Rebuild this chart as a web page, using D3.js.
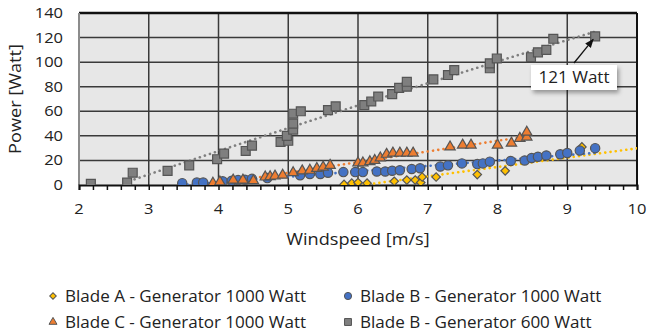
<!DOCTYPE html>
<html>
  <head>
    <meta charset="utf-8" />
    <title>Power vs windspeed</title>
    <script src="https://cdn.jsdelivr.net/npm/d3@7/dist/d3.min.js"></script>
    <style>
      body { margin: 0; background: #fff; }
      text { font-family: "Open Sans", "Noto Sans", sans-serif; fill: #222; }
    </style>
  </head>
  <body>
    <script>
      // Blade A - Generator 1000 Watt (yellow diamonds)
      const bladeA_x = [5.8, 5.91, 6.0, 6.13, 6.52, 6.7, 6.82, 6.9, 6.92, 7.12, 7.71, 8.11, 9.21];
      const bladeA_y = [0.5, 1.5, 2, 1.5, 3, 4, 4, 2, 6.5, 6.5, 8.5, 11.5, 31];

      // Blade B - Generator 1000 Watt (blue circles)
      const bladeB_x = [3.48, 3.69, 3.78, 4.06, 4.19, 4.28, 4.38, 4.48, 4.7, 5.17, 5.31, 5.46, 5.57,
        5.79, 5.96, 6.07, 6.27, 6.39, 6.49, 6.6, 6.77, 6.89, 7.18, 7.29, 7.49, 7.71, 7.79, 7.89,
        8.19, 8.39, 8.49, 8.58, 8.7, 8.9, 9.0, 9.18, 9.4];
      const bladeB_y = [1.5, 2, 2, 3, 3.5, 4, 4.3, 5, 5.6, 8, 9, 9, 10,
        10.5, 10.5, 10.5, 11, 11, 11.6, 12, 13, 13.6, 15, 16, 17.6, 17, 17.6, 19,
        19.5, 20, 22, 23, 24, 25, 26, 28, 30];

      // Blade C - Generator 1000 Watt (orange triangles)
      const bladeC_x = [3.92, 4.02, 4.21, 4.35, 4.5, 4.67, 4.74, 4.81, 4.92, 5.07, 5.2, 5.31, 5.41,
        5.5, 5.6, 6.0, 6.07, 6.17, 6.24, 6.32, 6.41, 6.5, 6.6, 6.7, 6.79, 7.32, 7.5, 7.62, 8.0,
        8.2, 8.32, 8.42, 8.42];
      const bladeC_y = [1.5, 2.5, 4, 4, 3.5, 6.5, 6.8, 7.3, 8, 10, 11.5, 12, 13.5,
        14.6, 16, 18, 18, 19, 20, 22, 25, 26, 26, 26, 26, 31, 32.5, 32.5, 32.5,
        34, 38, 39, 43];

      // Blade B - Generator 600 Watt (grey squares)
      const bladeB600_x = [2.17, 2.69, 2.77, 3.27, 3.58, 3.98, 4.08, 4.39, 4.48, 4.89, 5.0, 4.98,
        5.07, 5.07, 5.07, 5.18, 5.57, 5.68, 6.09, 6.19, 6.29, 6.49, 6.59, 6.7, 6.7, 7.08, 7.29,
        7.38, 7.89, 7.89, 7.99, 8.48, 8.58, 8.7, 8.8, 9.4];
      const bladeB600_y = [1, 2, 10, 11.5, 16, 21, 25.5, 27.7, 32, 35, 36, 40,
        45, 50, 58, 60, 61, 64, 65, 68, 72, 74, 79, 80, 84, 86, 89.5,
        93.5, 95, 99, 103, 104, 108, 110, 119, 121];

      const xTicks = [2, 3, 4, 5, 6, 7, 8, 9, 10];
      const yTicks = [0, 20, 40, 60, 80, 100, 120, 140];

      const seriesNames = [
        "Blade A - Generator 1000 Watt",
        "Blade B - Generator 1000 Watt",
        "Blade C - Generator 1000 Watt",
        "Blade B - Generator 600 Watt"
      ];
      const seriesColors = ["#ffc000", "#4472c4", "#ed7d31", "#7f7f7f"];
      const seriesSymbols = [d3.symbolSquare, d3.symbolCircle, d3.symbolTriangle, d3.symbolSquare];
      const symbolRotate = [45, 0, 0, 0];
      const symbolSizes = [36, 68, 46, 80];
      const trendDegree = [1, 1, 1, 2];
      const trendForwardTo = [10, null, null, null];

      const annotationText = "121 Watt";

      const w = 648;
      const h = 332;
      const pLeft = 79, pRight = 637, pTop = 13, pBottom = 185;
      const SX = 1.1; // text in the picture is a bit wider than the font

      const xScale = d3.scaleLinear().domain([2, 10]).range([pLeft, pRight]);
      const yScale = d3.scaleLinear().domain([0, 140]).range([pBottom, pTop]);

      const svg = d3.select("body").append("svg").attr("width", w).attr("height", h);

      function label(g, x, y, str, size, anchor, rot) {
        return g.append("text")
          .attr("transform", "translate(" + x + "," + y + ")" + (rot ? " rotate(" + rot + ")" : "") + " scale(" + SX + ",1)")
          .attr("text-anchor", anchor || "start")
          .attr("font-size", size)
          .text(str);
      }

      const defs = svg.append("defs");
      defs.append("clipPath").attr("id", "plotClip")
        .append("rect").attr("x", pLeft).attr("y", pTop)
        .attr("width", pRight - pLeft).attr("height", pBottom - pTop);
      const shadow = defs.append("filter").attr("id", "shadow")
        .attr("x", "-20%").attr("y", "-20%").attr("width", "150%").attr("height", "170%");
      shadow.append("feDropShadow").attr("dx", 2).attr("dy", 3)
        .attr("stdDeviation", 2).attr("flood-color", "#000").attr("flood-opacity", 0.35);
      defs.append("marker").attr("id", "arrow").attr("viewBox", "0 0 10 10")
        .attr("refX", 9).attr("refY", 5).attr("markerWidth", 7).attr("markerHeight", 7)
        .attr("orient", "auto")
        .append("path").attr("d", "M0,1 L10,5 L0,9 Z").attr("fill", "#111");

      // plot background
      svg.append("rect").attr("x", pLeft).attr("y", pTop)
        .attr("width", pRight - pLeft).attr("height", pBottom - pTop)
        .attr("fill", "#e7e7e7");

      // grid
      svg.append("g").selectAll("line").data(yTicks.slice(1)).join("line")
        .attr("x1", pLeft).attr("x2", pRight)
        .attr("y1", d => yScale(d)).attr("y2", d => yScale(d))
        .attr("stroke", "#3a3a3a").attr("stroke-width", 1.5);
      svg.append("g").selectAll("line").data(xTicks.slice(1)).join("line")
        .attr("x1", d => xScale(d)).attr("x2", d => xScale(d))
        .attr("y1", pTop).attr("y2", pBottom)
        .attr("stroke", "#3a3a3a").attr("stroke-width", 1.5);

      // borders
      svg.append("line").attr("x1", pLeft).attr("x2", pRight).attr("y1", pTop).attr("y2", pTop)
        .attr("stroke", "#111").attr("stroke-width", 2.5);
      svg.append("line").attr("x1", pRight).attr("x2", pRight).attr("y1", pTop).attr("y2", pBottom)
        .attr("stroke", "#111").attr("stroke-width", 2);
      svg.append("line").attr("x1", pLeft).attr("x2", pLeft).attr("y1", pTop).attr("y2", pBottom)
        .attr("stroke", "#8c8c8c").attr("stroke-width", 2);

      // x axis with minor ticks
      const xAxis = d3.axisBottom(xScale).tickValues(d3.range(2, 10.001, 0.2))
        .tickSize(5).tickFormat("");
      const gx = svg.append("g").attr("transform", "translate(0," + pBottom + ")").call(xAxis);
      gx.select(".domain").attr("stroke", "#111").attr("stroke-width", 2);
      gx.selectAll(".tick line").attr("stroke", "#111").attr("stroke-width", 1.5);
      const xl = svg.append("g");
      xTicks.forEach(d => label(xl, xScale(d), pBottom + 29, d, 15, "middle"));

      // y axis labels
      const yl = svg.append("g");
      yTicks.forEach(d => label(yl, pLeft - 16, yScale(d) + 5, d, 15, "end"));

      label(svg, 358, 245, "Windspeed [m/s]", 16.5, "middle");
      label(svg, 21, 99, "Power [Watt]", 16.5, "middle", -90);

      const allX = [bladeA_x, bladeB_x, bladeC_x, bladeB600_x];
      const allY = [bladeA_y, bladeB_y, bladeC_y, bladeB600_y];

      // least squares polynomial fit
      function polyfit(xs, ys, deg) {
        const n = deg + 1;
        const A = Array.from({ length: n }, () => new Array(n + 1).fill(0));
        xs.forEach((x, k) => {
          for (let i = 0; i < n; i++) {
            for (let j = 0; j < n; j++) A[i][j] += Math.pow(x, i + j);
            A[i][n] += ys[k] * Math.pow(x, i);
          }
        });
        for (let i = 0; i < n; i++) {
          let p = i;
          for (let r = i + 1; r < n; r++) if (Math.abs(A[r][i]) > Math.abs(A[p][i])) p = r;
          [A[i], A[p]] = [A[p], A[i]];
          for (let r = 0; r < n; r++) {
            if (r === i) continue;
            const f = A[r][i] / A[i][i];
            for (let c = i; c <= n; c++) A[r][c] -= f * A[i][c];
          }
        }
        return A.map((row, i) => row[n] / row[i]);
      }

      const plot = svg.append("g").attr("clip-path", "url(#plotClip)");

      // trendlines
      allX.forEach((xs, s) => {
        const coef = polyfit(xs, allY[s], trendDegree[s]);
        const x0 = d3.min(xs);
        const x1 = trendForwardTo[s] || d3.max(xs);
        const pts = d3.range(x0, x1 + 0.0001, (x1 - x0) / 60).map(x => {
          const y = coef.reduce((acc, c, i) => acc + c * Math.pow(x, i), 0);
          return [x, y];
        }).filter(p => p[1] >= 0);
        plot.append("path")
          .attr("d", d3.line().x(p => xScale(p[0])).y(p => yScale(p[1]))(pts))
          .attr("fill", "none").attr("stroke", seriesColors[s])
          .attr("stroke-width", 2.6).attr("stroke-linecap", "round")
          .attr("stroke-dasharray", "0.1 5.2");
      });

      // markers
      allX.forEach((xs, s) => {
        const sym = d3.symbol().type(seriesSymbols[s]).size(symbolSizes[s]);
        plot.append("g").selectAll("path").data(xs.map((x, i) => [x, allY[s][i]])).join("path")
          .attr("transform", d => "translate(" + xScale(d[0]) + "," + yScale(d[1]) + ") rotate(" + symbolRotate[s] + ")")
          .attr("d", sym)
          .attr("fill", seriesColors[s])
          .attr("stroke", "#555").attr("stroke-width", 1.2);
      });

      // annotation
      const last = bladeB600_x.length - 1;
      const ax = xScale(bladeB600_x[last]), ay = yScale(bladeB600_y[last]);
      svg.append("line").attr("x1", 574).attr("y1", 63).attr("x2", ax - 2).attr("y2", ay + 3)
        .attr("stroke", "#111").attr("stroke-width", 1.3).attr("marker-end", "url(#arrow)");
      svg.append("rect").attr("x", 531).attr("y", 65).attr("width", 86).attr("height", 25)
        .attr("fill", "#fff").attr("filter", "url(#shadow)");
      label(svg, 574, 83, annotationText, 15.5, "middle");

      // legend
      const legendPos = [[53, 302], [348, 302], [53, 328], [348, 328]];
      const legend = svg.append("g");
      seriesNames.forEach((name, s) => {
        const [lx, ly] = legendPos[s];
        legend.append("path")
          .attr("transform", "translate(" + lx + "," + (ly - 6) + ") rotate(" + symbolRotate[s] + ")")
          .attr("d", d3.symbol().type(seriesSymbols[s]).size(symbolSizes[s] * 0.6))
          .attr("fill", seriesColors[s]).attr("stroke", "#555").attr("stroke-width", 1);
        label(legend, lx + 12, ly, name, 15.5, "start");
      });
    </script>
  </body>
</html>
